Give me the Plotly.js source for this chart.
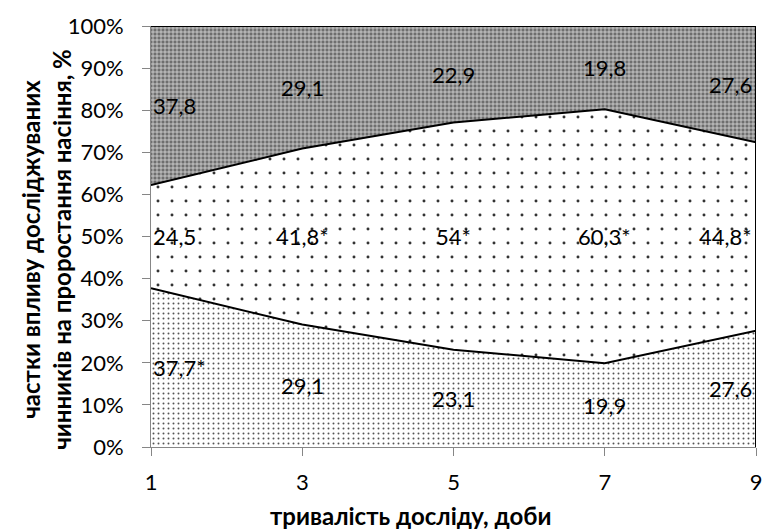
<!DOCTYPE html>
<html>
<head>
<meta charset="utf-8">
<script src="https://cdn.plot.ly/plotly-3.0.1.min.js"></script>
<style>html,body{margin:0;padding:0;background:#fff;}#chart{width:764px;height:532px;}</style>
</head>
<body>
<div id="chart"></div>
<script>
const days = [1, 3, 5, 7, 9];
const bottomVals = [37.7, 29.1, 23.1, 19.9, 27.6];
const middleVals = [24.5, 41.8, 54, 60.3, 44.8];
const topVals = [37.8, 29.1, 22.9, 19.8, 27.6];
const bottomLabels = ['37,7*', '29,1', '23,1', '19,9', '27,6'];
const middleLabels = ['24,5', '41,8*', '54*', '60,3*', '44,8*'];
const topLabels = ['37,8', '29,1', '22,9', '19,8', '27,6'];
const yTitle = 'частки впливу досліджуваних<br>чинників на проростання насіння, %';
const xTitle = 'тривалість досліду, доби';

const FONT = 'Lato, "Open Sans", sans-serif';
const lineStyle = {color: '#000', width: 2};

const traces = [
  {x: days, y: bottomVals.map(v => v / 100), stackgroup: 'one', mode: 'lines', line: lineStyle,
   fillpattern: {shape: '.', size: 5, solidity: 0.12, fgcolor: '#555', bgcolor: '#fff'}, hoverinfo: 'skip'},
  {x: days, y: middleVals.map(v => v / 100), stackgroup: 'one', mode: 'lines', line: lineStyle,
   fillpattern: {shape: '.', size: 14, solidity: 0.035, fgcolor: '#333', bgcolor: '#fff'}, hoverinfo: 'skip'},
  {x: days, y: topVals.map(v => v / 100), stackgroup: 'one', mode: 'lines', line: lineStyle,
   fillpattern: {shape: '+', size: 4, solidity: 0.35, fgcolor: '#dcdcdc', bgcolor: '#6e6e6e'}, hoverinfo: 'skip'}
];

const LBL = 22;
const annotations = [];
function addLabels(labels, lowers, vals) {
  labels.forEach((t, i) => {
    const mid = (lowers[i] + vals[i] / 2) / 100;
    const a = {x: days[i], y: mid, text: t, showarrow: false, font: {family: FONT, size: LBL, color: '#000'}, yanchor: 'middle'};
    if (i === 0) { a.xanchor = 'left'; a.xshift = 0; }
    else if (i === days.length - 1) { a.xanchor = 'right'; a.xshift = -2; }
    else { a.xanchor = 'center'; }
    annotations.push(a);
  });
}
addLabels(bottomLabels, bottomVals.map(() => 0), bottomVals);
addLabels(middleLabels, bottomVals, middleVals);
addLabels(topLabels, bottomVals.map((v, i) => v + middleVals[i]), topVals);

annotations.push({xref: 'paper', yref: 'paper', x: -0.174, y: 0.47, text: yTitle, textangle: -90,
  showarrow: false, xanchor: 'center', yanchor: 'middle', align: 'center',
  font: {family: FONT, size: 24, color: '#000', weight: 'bold'}});
annotations.push({xref: 'paper', yref: 'paper', x: 0.43, y: -0.162, text: xTitle,
  showarrow: false, xanchor: 'center', yanchor: 'middle',
  font: {family: FONT, size: 24, color: '#000', weight: 'bold'}});

const layout = {
  width: 764, height: 532,
  margin: {l: 151, r: 8, t: 26, b: 85},
  paper_bgcolor: '#fff', plot_bgcolor: '#fff',
  showlegend: false,
  font: {family: FONT, size: 22, color: '#000'},
  xaxis: {
    range: [1, 9], tickvals: days, ticktext: days.map(String),
    showgrid: false, zeroline: false, showline: true, linecolor: '#868686', linewidth: 1,
    ticks: 'outside', ticklen: 8, tickcolor: '#868686', ticklabelstandoff: 8,
    tickfont: {family: FONT, size: 22, color: '#000'}
  },
  yaxis: {
    range: [0, 1], dtick: 0.1, tick0: 0, tickformat: '.0%',
    showgrid: false, zeroline: false, showline: true, linecolor: '#868686', linewidth: 1,
    ticks: 'outside', ticklen: 8, tickcolor: '#868686', ticklabelstandoff: 14,
    tickfont: {family: FONT, size: 22, color: '#000'}
  },
  shapes: [
    {type: 'line', xref: 'x', yref: 'paper', x0: 9, x1: 9, y0: 0, y1: 1, line: {color: '#000', width: 2}}
  ],
  annotations: annotations
};

Plotly.newPlot('chart', traces, layout, {displayModeBar: false, staticPlot: true});
</script>
</body>
</html>
